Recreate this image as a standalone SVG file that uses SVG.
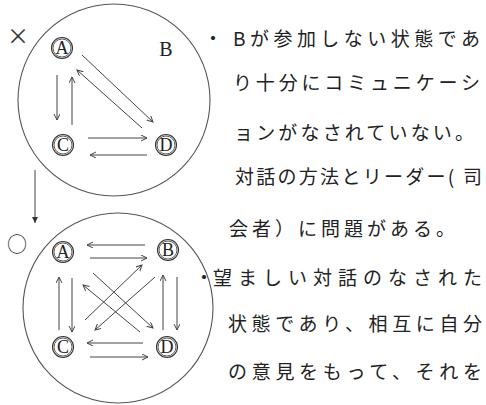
<svg xmlns="http://www.w3.org/2000/svg" width="486" height="405" viewBox="0 0 486 405">
<style>
.big{fill:none;stroke:#555;stroke-width:1.1}
.ring{fill:#fff;stroke:#333;stroke-width:1.1}
.ring2{fill:none;stroke:#333;stroke-width:0.8}
.lt{font-family:"Liberation Serif",serif;font-size:18px;fill:#222;text-anchor:middle;dominant-baseline:central}
.ln{fill:none;stroke:#444;stroke-width:1;marker-end:url(#ah)}
.tx{font-family:"Noto Sans CJK JP",sans-serif;font-size:19px;fill:#222}
.sym{font-family:"Noto Sans CJK JP",sans-serif;fill:#333;text-anchor:middle;dominant-baseline:central}
</style>
<defs>
<marker id="ah" markerWidth="8" markerHeight="8" refX="6" refY="3" orient="auto" markerUnits="userSpaceOnUse">
<path d="M0,0 L6,3 L0,6" fill="none" stroke="#444" stroke-width="1"/>
</marker>
<marker id="fh" markerWidth="8" markerHeight="8" refX="6" refY="3" orient="auto" markerUnits="userSpaceOnUse">
<path d="M0,0 L6,3 L0,6 Z" fill="#333"/>
</marker>
</defs>
<rect width="486" height="405" fill="#fff"/>

<g id="circle-top"><circle class="big" cx="114" cy="100" r="96"/></g>
<g id="circle-bottom"><circle class="big" cx="118" cy="308" r="95"/></g>

<g id="mark-x"><text class="sym" x="18" y="34" font-size="22">×</text></g>
<g id="mark-o"><text class="sym" x="17" y="243" font-size="20">○</text></g>

<g id="connectors">
<line x1="35" y1="170" x2="35" y2="223" stroke="#444" stroke-width="1" marker-end="url(#fh)"/>
<!-- top diagram -->
<line class="ln" x1="57" y1="75" x2="57" y2="120"/>
<line class="ln" x1="72" y1="125" x2="72" y2="77"/>
<line class="ln" x1="82" y1="55" x2="153" y2="122"/>
<line class="ln" x1="142" y1="128" x2="77" y2="70"/>
<line class="ln" x1="88" y1="138" x2="147" y2="138"/>
<line class="ln" x1="147" y1="155" x2="90" y2="155"/>
<!-- bottom diagram -->
<line class="ln" x1="145" y1="245" x2="87" y2="245"/>
<line class="ln" x1="90" y1="258" x2="147" y2="258"/>
<line class="ln" x1="59" y1="330" x2="59" y2="277"/>
<line class="ln" x1="72" y1="278" x2="72" y2="332"/>
<line class="ln" x1="163" y1="330" x2="163" y2="275"/>
<line class="ln" x1="177" y1="277" x2="177" y2="330"/>
<line class="ln" x1="143" y1="343" x2="87" y2="343"/>
<line class="ln" x1="90" y1="357" x2="148" y2="357"/>
<line class="ln" x1="93" y1="273" x2="153" y2="328"/>
<line class="ln" x1="140" y1="332" x2="83" y2="285"/>
<line class="ln" x1="85" y1="320" x2="142" y2="265"/>
<line class="ln" x1="155" y1="277" x2="95" y2="330"/>
</g>

<g id="top-A"><circle class="ring" cx="62" cy="48" r="10.5"/><circle class="ring2" cx="62" cy="48" r="9"/><text class="lt" x="62" y="48">A</text></g>
<g id="top-B"><text x="166" y="49" font-family="Liberation Serif,serif" font-size="20" fill="#222" text-anchor="middle" dominant-baseline="central">B</text></g>
<g id="top-C"><circle class="ring" cx="63" cy="145" r="10.5"/><circle class="ring2" cx="63" cy="145" r="9"/><text class="lt" x="63" y="145">C</text></g>
<g id="top-D"><circle class="ring" cx="166" cy="145" r="10.5"/><circle class="ring2" cx="166" cy="145" r="9"/><text class="lt" x="166" y="145">D</text></g>

<g id="bot-A"><circle class="ring" cx="63" cy="252" r="10.5"/><circle class="ring2" cx="63" cy="252" r="9"/><text class="lt" x="63" y="252">A</text></g>
<g id="bot-B"><circle class="ring" cx="168" cy="250" r="10.5"/><circle class="ring2" cx="168" cy="250" r="9"/><text class="lt" x="168" y="250">B</text></g>
<g id="bot-C"><circle class="ring" cx="63" cy="347" r="10.5"/><circle class="ring2" cx="63" cy="347" r="9"/><text class="lt" x="63" y="347">C</text></g>
<g id="bot-D"><circle class="ring" cx="167" cy="347" r="10.5"/><circle class="ring2" cx="167" cy="347" r="9"/><text class="lt" x="167" y="347">D</text></g>

<g id="text-block">
<text class="tx" x="213" y="46" text-anchor="middle">・</text>
<text class="tx" x="233" y="46" textLength="247" lengthAdjust="spacing">Bが参加しない状態であ</text>
<text class="tx" x="233" y="90" textLength="247" lengthAdjust="spacing">り十分にコミュニケーシ</text>
<text class="tx" x="234" y="140" textLength="240" lengthAdjust="spacing">ョンがなされていない。</text>
<text class="tx" x="235" y="184" textLength="247" lengthAdjust="spacing">対話の方法とリーダー( 司</text>
<text class="tx" x="229" y="236" textLength="226" lengthAdjust="spacing">会者）に問題がある。</text>
<text class="tx" x="204" y="285" text-anchor="middle">・</text>
<text class="tx" x="213" y="285" textLength="269" lengthAdjust="spacing">望ましい対話のなされた</text>
<text class="tx" x="228" y="331" textLength="254" lengthAdjust="spacing">状態であり、相互に自分</text>
<text class="tx" x="228" y="379" textLength="254" lengthAdjust="spacing">の意見をもって、それを</text>
</g>
</svg>
